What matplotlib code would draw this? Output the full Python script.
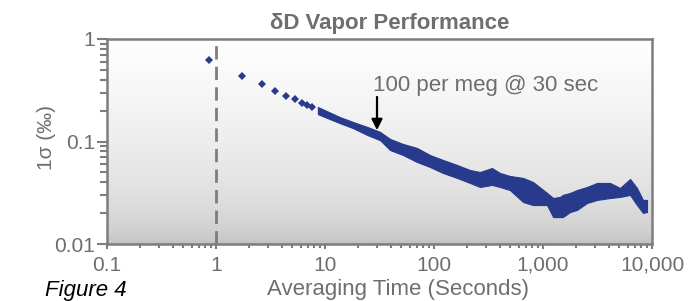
import matplotlib
matplotlib.use("Agg")
import matplotlib.pyplot as plt
import numpy as np
from matplotlib.ticker import FixedLocator, FixedFormatter, NullFormatter

plt.rcParams['font.family'] = ['Liberation Sans', 'DejaVu Sans']

# ---------------- data ----------------
title = "\u03b4D Vapor Performance"
xlabel = "Averaging Time (Seconds)"
ylabel = "1\u03c3 (\u2030)"
note = "100 per meg @ 30 sec"
fig_label = "Figure 4"

# isolated early points
tau_pts = [0.86, 1.73, 2.64, 3.47, 4.36, 5.31, 6.13, 6.82, 7.55]
sig_pts = [0.62, 0.435, 0.361, 0.313, 0.280, 0.260, 0.239, 0.227, 0.218]

# dense band of points: upper and lower envelope of the point cloud
tau_band = [8.6, 10.4, 13.7, 18.1, 24.3, 32, 39.5, 52, 69.8, 91.9, 121, 163, 214,
            264, 340, 403, 497, 656, 810, 1088, 1240, 1433, 1520, 1770, 2050,
            2530, 3130, 4120, 5090, 6290, 7280, 8260, 9000]
sig_hi = [0.217, 0.198, 0.173, 0.155, 0.139, 0.124, 0.106, 0.0946, 0.0865, 0.0738,
          0.0660, 0.0590, 0.0527, 0.0504, 0.0551, 0.0493, 0.0461, 0.0441, 0.0403,
          0.0315, 0.0281, 0.0288, 0.0301, 0.0315, 0.0336, 0.0360, 0.0394, 0.0394,
          0.0352, 0.0431, 0.0352, 0.0269, 0.0269]
sig_lo = [0.185, 0.170, 0.151, 0.135, 0.116, 0.103, 0.0826, 0.0738, 0.0631, 0.0564,
          0.0493, 0.0441, 0.0394, 0.0360, 0.0377, 0.0360, 0.0336, 0.0257, 0.0240,
          0.0240, 0.0183, 0.0183, 0.0183, 0.0205, 0.0215, 0.0251, 0.0269, 0.0281,
          0.0288, 0.0301, 0.0240, 0.0201, 0.0205]

xticks = [0.1, 1, 10, 100, 1000, 10000]
xticklabels = ["0.1", "1", "10", "100", "1,000", "10,000"]
yticks = [0.01, 0.1, 1]
yticklabels = ["0.01", "0.1", "1"]
ref_tau = 1
arrow_tau = 30
arrow_tip = 0.129
arrow_tail = 0.272

# ---------------- styling ----------------
W, H = 688, 301
fig = plt.figure(figsize=(W / 100, H / 100), dpi=100)
L, R, T, B = 107, 652, 39, 244
ax = fig.add_axes([L / W, 1 - B / H, (R - L) / W, (B - T) / H])

navy = "#283a8c"
gray = "#7d7d7d"
txtgray = "#6d6e71"

ax.set_xscale('log')
ax.set_yscale('log')

# background gradient (white at top -> grey at bottom)
t = np.linspace(0, 1, 256)
lev = 0.74 + 0.26 * t ** 0.45
grad = np.dstack([lev, lev, lev])[0][::-1].reshape(256, 1, 3)
ax.imshow(grad, extent=[0, 1, 0, 1], transform=ax.transAxes, aspect='auto',
          zorder=0, interpolation='bilinear')
ax.set_xlim(0.1, 10000)
ax.set_ylim(0.01, 1)

# dashed reference line at 1 s
ax.axvline(ref_tau, color=gray, lw=2.0, dashes=(4.8, 2.6), zorder=1)

# data
ax.fill_between(tau_band, sig_lo, sig_hi, color=navy, lw=0.8, edgecolor=navy, zorder=3)
ax.plot(tau_pts, sig_pts, 'D', color=navy, markersize=4.2, mew=0, zorder=3)

# annotation
ax.annotate('', xy=(arrow_tau, arrow_tip), xytext=(arrow_tau, arrow_tail),
            arrowprops=dict(arrowstyle='-|>', color='black', lw=1.6,
                            mutation_scale=16, shrinkA=0, shrinkB=0), zorder=5)
fig.text(373 / W, 1 - 91 / H, note, fontsize=16, color=txtgray, ha='left', va='baseline')

# spines/ticks
for s in ax.spines.values():
    s.set_color(gray)
    s.set_linewidth(1.8)
    s.set_zorder(4)

ax.xaxis.set_major_locator(FixedLocator(xticks))
ax.xaxis.set_major_formatter(FixedFormatter(xticklabels))
ax.xaxis.set_minor_formatter(NullFormatter())
ax.yaxis.set_major_locator(FixedLocator(yticks))
ax.yaxis.set_major_formatter(FixedFormatter(yticklabels))
ax.yaxis.set_minor_formatter(NullFormatter())

ax.tick_params(axis='x', which='major', direction='out', length=3.5, width=1.5,
               color=gray, labelcolor=txtgray, labelsize=15, pad=5)
ax.tick_params(axis='x', which='minor', direction='out', length=3.2, width=1.5, color=gray)
ax.tick_params(axis='y', which='major', direction='out', length=7.2, width=1.5,
               color=gray, labelcolor=txtgray, labelsize=15, pad=1.5)
ax.tick_params(axis='y', which='minor', direction='out', length=5, width=1.5, color=gray)

# titles and labels
fig.text(389.5 / W, 1 - 29 / H, title, fontsize=16, fontweight='bold', color=txtgray,
         ha='center', va='baseline')
fig.text(398 / W, 1 - 295 / H, xlabel, fontsize=16, color=txtgray, ha='center', va='baseline')
fig.text(47 / W, 1 - 138 / H, ylabel, fontsize=15, color=txtgray, rotation=90,
         ha='center', va='center')
fig.text(45 / W, 1 - 296 / H, fig_label, fontsize=16, style='italic', color='black',
         ha='left', va='baseline')

fig.savefig("out.png", dpi=100)
